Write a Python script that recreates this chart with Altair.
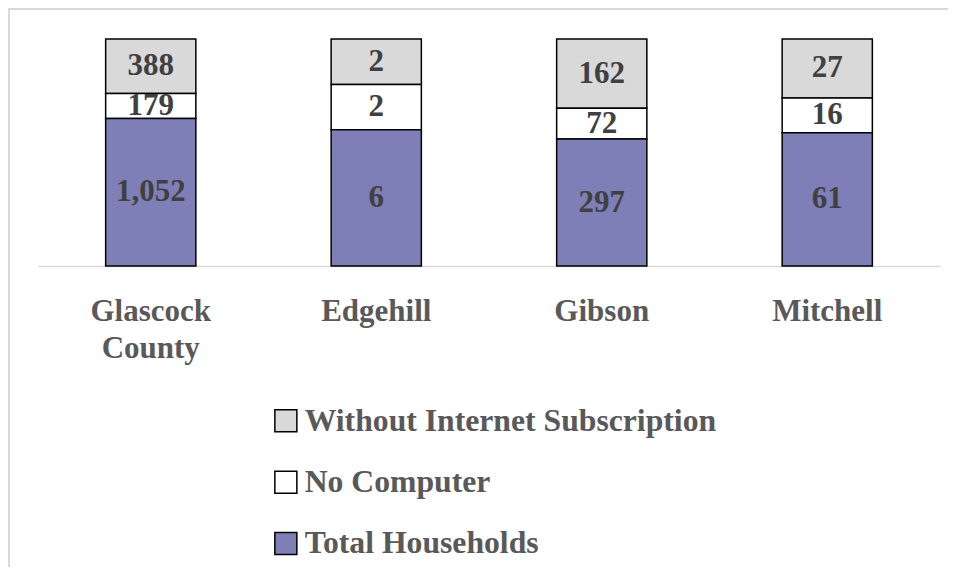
import altair as alt
import pandas as pd

counties = ["Glascock County", "Edgehill", "Gibson", "Mitchell"]
total_households = [1052, 6, 297, 61]
no_computer = [179, 2, 72, 16]
without_internet = [388, 2, 162, 27]

series = ["Without Internet Subscription", "No Computer", "Total Households"]
stack_rank = {"Total Households": 0, "No Computer": 1, "Without Internet Subscription": 2}
colors = ["#d9d9d9", "#ffffff", "#7f7fb7"]

rows = []
for i, c in enumerate(counties):
    for s, vals in zip(series, [without_internet, no_computer, total_households]):
        rows.append({"county": c, "series": s, "value": vals[i], "rank": stack_rank[s]})
df = pd.DataFrame(rows)

FONT = "Liberation Serif"

base = alt.Chart(df).transform_stack(
    stack="value",
    groupby=["county"],
    sort=[alt.SortField("rank", order="ascending")],
    as_=["y0", "y1"],
    offset="normalize",
).transform_calculate(mid="(datum.y0 + datum.y1) / 2")

x_enc = alt.X(
    "county:N",
    sort=counties,
    scale=alt.Scale(paddingInner=0.6, paddingOuter=0.3),
    axis=alt.Axis(
        title=None,
        labelExpr="split(datum.label, ' ')",
        labelAngle=0,
        ticks=False,
        domainColor="#d9d9d9",
        domainWidth=1.5,
        labelFont=FONT,
        labelFontSize=31,
        labelFontWeight="bold",
        labelColor="#595959",
        labelPadding=30.5,
        labelLineHeight=37,
    ),
)

bars = base.mark_bar(stroke="black", strokeWidth=1.5).encode(
    x=x_enc,
    y=alt.Y("y0:Q", scale=alt.Scale(domain=[0, 1]), axis=None),
    y2="y1:Q",
    color=alt.Color(
        "series:N",
        scale=alt.Scale(domain=series, range=colors),
        legend=alt.Legend(
            title=None,
            orient="none",
            legendX=232,
            legendY=366,
            direction="vertical",
            symbolType="square",
            symbolSize=484,
            symbolStrokeColor="black",
            symbolStrokeWidth=1.5,
            labelFont=FONT,
            labelFontSize=31.7,
            labelFontWeight="bold",
            labelColor="#595959",
            labelOffset=3,
            rowPadding=28.3,
            padding=0,
            labelLimit=700,
        ),
    ),
)

labels = base.mark_text(
    font=FONT, fontSize=31, fontWeight="bold", color="#404040", baseline="middle"
).encode(
    x=x_enc,
    y=alt.Y("mid:Q", scale=alt.Scale(domain=[0, 1]), axis=None),
    text=alt.Text("value:Q", format=","),
)

frame_data = pd.DataFrame({"a": [0]})
frame_top = alt.Chart(frame_data).mark_rule(stroke="#d9d9d9", strokeWidth=2).encode(
    x=alt.value(-30), x2=alt.value(1000), y=alt.value(-30)
)
frame_left = alt.Chart(frame_data).mark_rule(stroke="#d9d9d9", strokeWidth=2).encode(
    x=alt.value(-29), y=alt.value(-31), y2=alt.value(600)
)

chart = alt.layer(frame_top, frame_left, bars, labels).properties(
    width=902,
    height=227,
    autosize=alt.AutoSizeParams(type="none"),
    padding={"left": 30, "top": 31, "right": 8, "bottom": 301},
).configure_view(stroke=None).configure_axis(grid=False)

chart.save("out.html", embed_options={"renderer": "svg", "actions": False})
